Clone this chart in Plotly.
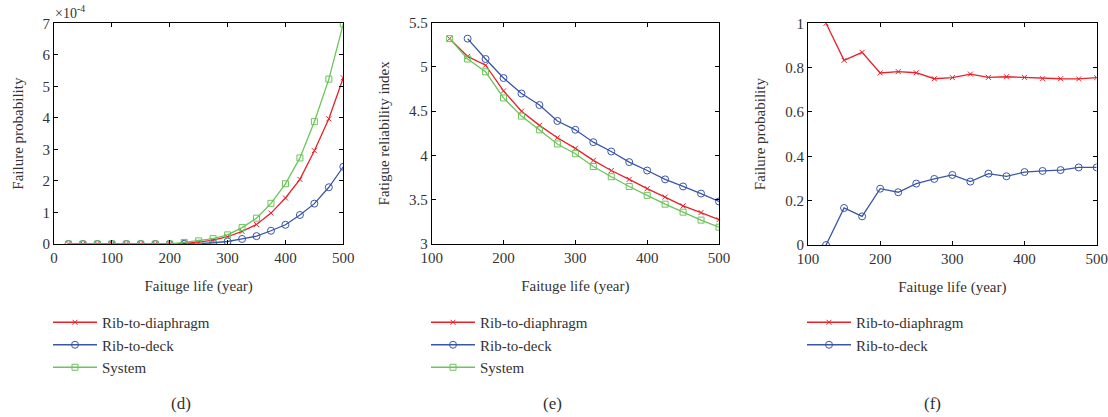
import plotly.graph_objects as go

# ---------------- data ----------------
life_d = [25, 50, 75, 100, 125, 150, 175, 200, 225, 250, 275, 300, 325, 350, 375, 400, 425, 450, 475, 500]
# panel (d): failure probability, in units of 1e-4
pf_diaphragm_d = [0, 0, 0, 0, 0, 0, 0, 0, 0.02, 0.06, 0.12, 0.23, 0.40, 0.62, 0.98, 1.46, 2.05, 2.96, 3.97, 5.27]
pf_deck_d = [0, 0, 0, 0, 0, 0, 0, 0, 0.005, 0.01, 0.04, 0.08, 0.16, 0.25, 0.42, 0.61, 0.92, 1.28, 1.80, 2.45]
pf_system_d = [0, 0, 0, 0, 0, 0, 0, 0, 0.05, 0.10, 0.17, 0.29, 0.52, 0.82, 1.29, 1.91, 2.73, 3.88, 5.23, 6.98]

# panel (e): fatigue reliability index
life_e = [125, 150, 175, 200, 225, 250, 275, 300, 325, 350, 375, 400, 425, 450, 475, 500]
beta_diaphragm = [5.32, 5.12, 5.02, 4.73, 4.50, 4.34, 4.20, 4.08, 3.945, 3.83, 3.73, 3.625, 3.53, 3.43, 3.355, 3.275]
beta_system = [5.32, 5.09, 4.945, 4.65, 4.445, 4.29, 4.13, 4.02, 3.875, 3.76, 3.65, 3.55, 3.45, 3.36, 3.27, 3.19]
life_e_deck = [150, 175, 200, 225, 250, 275, 300, 325, 350, 375, 400, 425, 450, 475, 500]
beta_deck = [5.32, 5.09, 4.875, 4.70, 4.57, 4.39, 4.29, 4.15, 4.045, 3.925, 3.83, 3.73, 3.65, 3.57, 3.48]

# panel (f): failure probability share
life_f = [125, 150, 175, 200, 225, 250, 275, 300, 325, 350, 375, 400, 425, 450, 475, 500]
share_diaphragm = [1.0, 0.833, 0.869, 0.776, 0.782, 0.777, 0.750, 0.755, 0.771, 0.756, 0.759, 0.756, 0.750, 0.750, 0.749, 0.755]
share_deck = [0.0, 0.167, 0.129, 0.254, 0.238, 0.277, 0.298, 0.316, 0.286, 0.322, 0.310, 0.329, 0.334, 0.338, 0.350, 0.350]

names = ["Rib-to-diaphragm", "Rib-to-deck", "System"]
captions = ["(d)", "(e)", "(f)"]

# ---------------- style ----------------
RED = "#e8212b"
BLUE = "#3a56a8"
GREEN = "#6cc45a"
FONT = "Liberation Serif, serif"
TXT = "#333333"
W, H = 1108, 417

def px_x(p):
    return p / W

def px_y(p):
    return 1 - p / H

fig = go.Figure()

def add(x, y, name, color, symbol, size, xa, ya, legend):
    fig.add_trace(go.Scatter(
        x=x, y=y, name=name, mode="lines+markers",
        line=dict(color=color, width=1.3),
        marker=dict(symbol=symbol, size=size, color=color,
                    line=dict(color=color, width=1)),
        xaxis=xa, yaxis=ya, legend=legend,
    ))

add(life_d, pf_diaphragm_d, names[0], RED, "x-thin-open", 5, "x", "y", "legend")
add(life_d, pf_deck_d, names[1], BLUE, "circle-open", 7, "x", "y", "legend")
add(life_d, pf_system_d, names[2], GREEN, "square-open", 6, "x", "y", "legend")

add(life_e, beta_diaphragm, names[0], RED, "x-thin-open", 5, "x2", "y2", "legend2")
add(life_e_deck, beta_deck, names[1], BLUE, "circle-open", 7, "x2", "y2", "legend2")
add(life_e, beta_system, names[2], GREEN, "square-open", 6, "x2", "y2", "legend2")

add(life_f, share_diaphragm, names[0], RED, "x-thin-open", 5, "x3", "y3", "legend3")
add(life_f, share_deck, names[1], BLUE, "circle-open", 7, "x3", "y3", "legend3")

axis_common = dict(
    showline=True, linecolor="#000", linewidth=1, mirror="ticks", automargin=False,
    ticks="inside", ticklen=4, tickcolor="#000", showgrid=False, zeroline=False,
    tickfont=dict(family=FONT, size=15, color=TXT),
)
title_font = dict(family=FONT, size=15, color=TXT)

panels = [
    dict(x0=54, x1=343.3, y0=23.3, y1=244, xr=[0, 500], xt=[0, 100, 200, 300, 400, 500],
         yr=[0, 7], yt=[0, 1, 2, 3, 4, 5, 6, 7], ylab="Failure probability"),
    dict(x0=431.7, x1=719, y0=22.7, y1=244, xr=[100, 500], xt=[100, 200, 300, 400, 500],
         yr=[3, 5.5], yt=[3, 3.5, 4, 4.5, 5, 5.5], ylab="Fatigue reliability index"),
    dict(x0=808, x1=1096.7, y0=23.3, y1=245, xr=[100, 500], xt=[100, 200, 300, 400, 500],
         yr=[0, 1], yt=[0, 0.2, 0.4, 0.6, 0.8, 1], ylab="Failure probability"),
]

layout = {}
for i, p in enumerate(panels):
    sfx = "" if i == 0 else str(i + 1)
    layout["xaxis" + sfx] = dict(
        axis_common, domain=[px_x(p["x0"]), px_x(p["x1"])], range=p["xr"], tickvals=p["xt"],
        anchor="y" + sfx,
        title=dict(text="Faituge life (year)", font=title_font),
    )
    layout["yaxis" + sfx] = dict(
        axis_common, domain=[px_y(p["y1"]), px_y(p["y0"])], range=p["yr"], tickvals=p["yt"],
        anchor="x" + sfx,
        title=dict(text=p["ylab"], font=title_font),
    )

legend_common = dict(
    font=dict(family=FONT, size=15, color=TXT), bgcolor="rgba(0,0,0,0)",
    xanchor="left", yanchor="top", tracegroupgap=0, itemsizing="trace", itemwidth=44,
)
layout["legend"] = dict(legend_common, x=px_x(48), y=px_y(306))
layout["legend2"] = dict(legend_common, x=px_x(426), y=px_y(306))
layout["legend3"] = dict(legend_common, x=px_x(802), y=px_y(306))

fig.update_layout(
    width=W, height=H, margin=dict(l=0, r=0, t=0, b=0),
    font=dict(family=FONT, size=15, color=TXT),
    paper_bgcolor="white", plot_bgcolor="white", showlegend=True,
    **layout,
)

ann = [
    dict(text="×10<sup>-4</sup>", x=px_x(53), y=px_y(12), xref="paper", yref="paper",
         xanchor="left", yanchor="middle", showarrow=False,
         font=dict(family=FONT, size=14, color=TXT)),
]
for cx, c in zip([181, 552, 932], captions):
    ann.append(dict(text=c, x=px_x(cx), y=px_y(403), xref="paper", yref="paper",
                    xanchor="center", yanchor="middle", showarrow=False,
                    font=dict(family=FONT, size=17, color=TXT)))
fig.update_layout(annotations=ann)

fig.write_html(
    "out.html",
    config={"displayModeBar": False},
    post_script="document.body.style.margin='0';document.body.style.overflow='hidden';",
)
